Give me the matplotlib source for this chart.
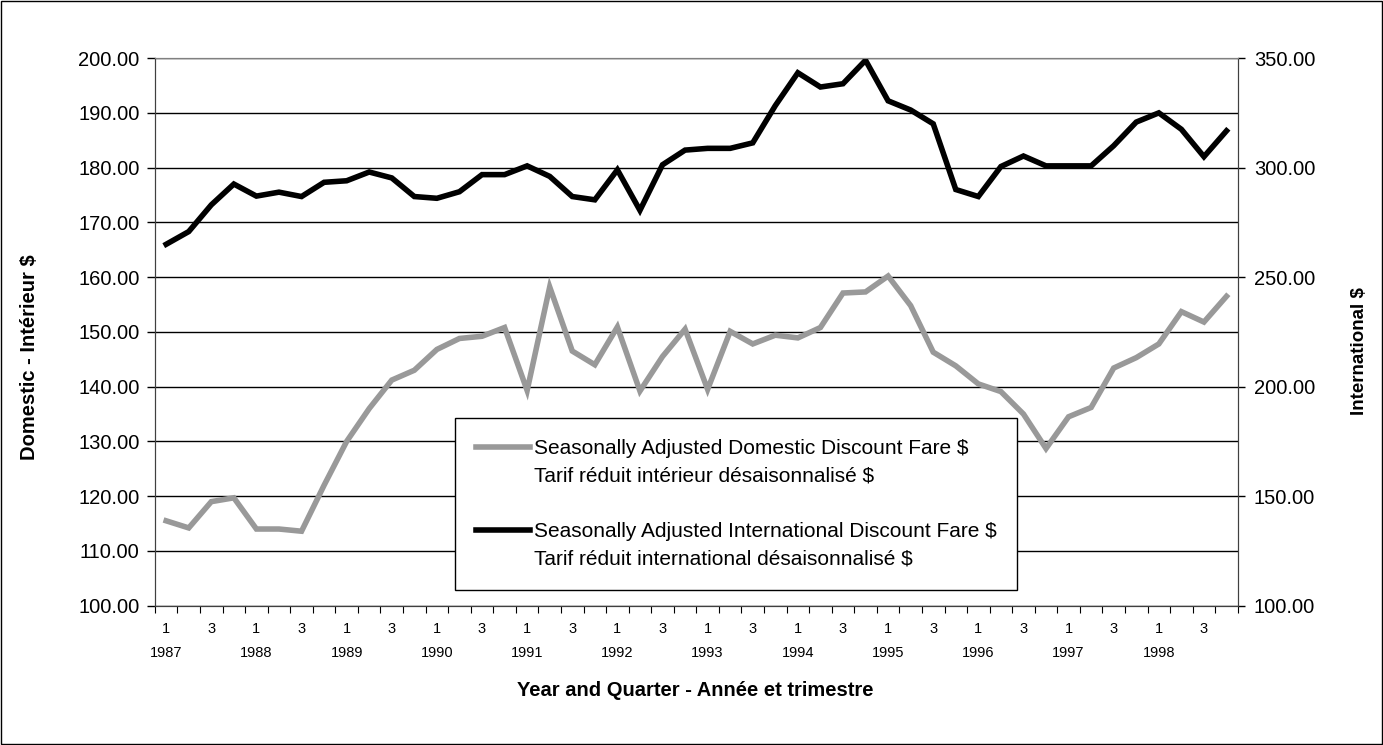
import matplotlib
matplotlib.use("Agg")
import matplotlib.pyplot as plt
from matplotlib.patches import Rectangle
from matplotlib.lines import Line2D

plt.rcParams['font.family'] = ['Liberation Sans', 'DejaVu Sans']

years = [str(y) for y in range(1987, 1999)]
quarters = [1, 2, 3, 4]

# seasonally adjusted domestic discount fare (left axis)
domestic = [115.5, 114.2, 119.0, 119.7,
            114.0, 114.0, 113.6, 122.0,
            130.0, 136.0, 141.2, 143.0,
            146.8, 148.8, 149.2, 150.8,
            139.3, 158.2, 146.5, 144.0,
            150.9, 139.2, 145.5, 150.5,
            139.5, 150.1, 147.8, 149.4,
            148.9, 150.8, 157.1, 157.3,
            160.2, 154.8, 146.3, 143.8,
            140.5, 139.1, 135.0, 128.7,
            134.5, 136.2, 143.4, 145.3,
            147.8, 153.7, 151.8, 156.5]

# seasonally adjusted international discount fare (right axis)
international = [265.0, 270.8, 283.0, 292.5,
                 287.0, 288.8, 286.8, 293.3,
                 294.0, 298.0, 295.3, 286.8,
                 286.0, 289.0, 296.8, 296.8,
                 300.8, 296.0, 286.8, 285.3,
                 299.0, 280.5, 301.3, 308.0,
                 308.8, 308.8, 311.3, 328.3,
                 343.3, 336.8, 338.3, 349.0,
                 330.5, 326.3, 320.0, 290.0,
                 286.8, 300.5, 305.3, 300.8,
                 300.8, 300.8, 310.0, 320.8,
                 325.0, 317.5, 305.0, 316.8]

dom_label = ["Seasonally Adjusted Domestic Discount Fare $", "Tarif réduit intérieur désaisonnalisé $"]
int_label = ["Seasonally Adjusted International Discount Fare $", "Tarif réduit international désaisonnalisé $"]

n = len(domestic)
x = list(range(n))

fig = plt.figure(figsize=(13.83, 7.45), dpi=100)
fig.patches.append(Rectangle((0.001, 0.001), 0.998, 0.997, transform=fig.transFigure,
                             fill=False, edgecolor='black', linewidth=1))
ax = fig.add_axes([0.112, 0.187, 0.783, 0.735])
ax2 = ax.twinx()

# left axis + gridlines
ax.set_ylim(100, 200)
ax.set_yticks(range(100, 201, 10))
ax.set_yticklabels(["%.2f" % v for v in range(100, 201, 10)], fontsize=14.5)
ax.yaxis.grid(True, color='black', linewidth=1)
ax.set_axisbelow(True)
l1, = ax.plot(x, domestic, color='#999999', linewidth=4, solid_joinstyle='miter')

# right axis
ax2.set_ylim(100, 350)
ax2.set_yticks(range(100, 351, 50))
ax2.set_yticklabels(["%.2f" % v for v in range(100, 351, 50)], fontsize=14.5)
l2, = ax2.plot(x, international, color='black', linewidth=4, solid_joinstyle='miter')

ax.set_xlim(-0.5, n - 0.5)
# tick marks at category boundaries, labels as text
ax.set_xticks([i - 0.5 for i in range(n + 1)])
ax.set_xticklabels([])
ax.tick_params(axis='x', length=5, direction='out', color='black')
for i in x:
    q = quarters[i % 4]
    if q in (1, 3):
        ax.text(i, -0.042, str(q), transform=ax.get_xaxis_transform(),
                ha='center', va='center', fontsize=10.5)
for k, yr in enumerate(years):
    ax.text(4 * k, -0.087, yr, transform=ax.get_xaxis_transform(),
            ha='center', va='center', fontsize=10.5)

ax.tick_params(axis='y', length=6, pad=5, direction='out', width=1)
ax2.tick_params(axis='y', length=5, pad=6.5, direction='out', width=1)
for a in (ax, ax2):
    a.spines['top'].set_color('#808080')
    a.spines['left'].set_color('#404040')
    a.spines['right'].set_color('#404040')
    a.spines['bottom'].set_color('#404040')

fig.text(0.503, 1 - 691 / 745, "Year and Quarter - Année et trimestre",
         ha='center', va='center', fontsize=14.5, fontweight='bold')
fig.text(30 / 1383, 1 - 357 / 745, "Domestic - Intérieur $", rotation=90,
         ha='center', va='center', fontsize=14.5, fontweight='bold')
fig.text(1360 / 1383, 1 - 351 / 745, "International $", rotation=90,
         ha='center', va='center', fontsize=13.5, fontweight='bold')

# legend: handle on the first line of each entry, blank row between entries
blank = Line2D([], [], color='none')
handles = [l1, blank, blank, l2, blank]
labels = [dom_label[0], dom_label[1], " ", int_label[0], int_label[1]]
leg = ax2.legend(handles, labels, loc='lower left',
                 bbox_to_anchor=(0.277, 0.029, 0.519, 0.305), mode='expand',
                 fontsize=15, frameon=True, fancybox=False, handlelength=2.6,
                 handletextpad=0.2, labelspacing=0.42, borderpad=1.0,
                 borderaxespad=0)
leg.get_frame().set_edgecolor('black')
leg.get_frame().set_linewidth(1)
leg.get_frame().set_alpha(1)

fig.savefig("out.png", dpi=100)
